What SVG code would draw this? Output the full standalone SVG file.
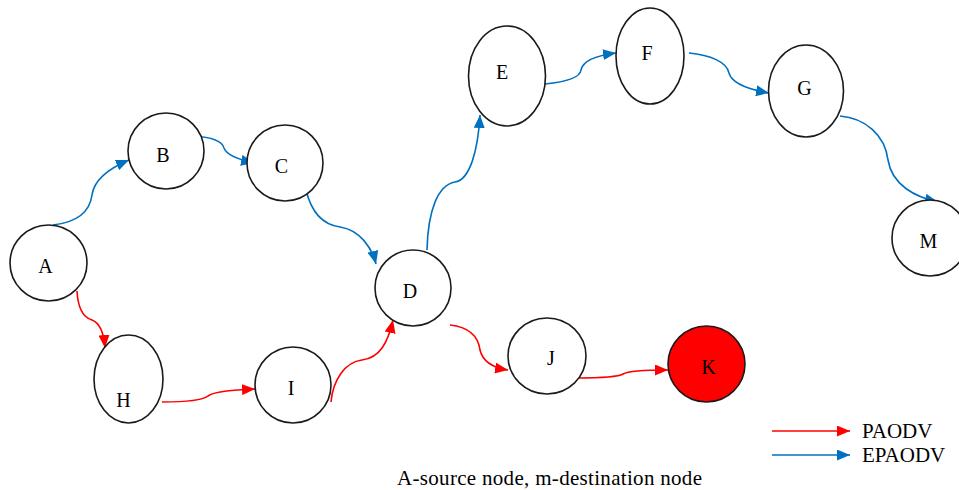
<svg xmlns="http://www.w3.org/2000/svg" width="959" height="490" viewBox="0 0 959 490">
<style>
.node{fill:#fff;stroke:#1a1a1a;stroke-width:1.6}
.dest{fill:#ff0000;stroke:#1a1a1a;stroke-width:1.6}
text{font-family:"Liberation Serif","Times New Roman",serif;fill:#000}
.lbl{font-size:20px;text-anchor:middle}
.txt{font-size:21px}
.red{fill:none;stroke:#ff0000;stroke-width:1.6;marker-end:url(#ar)}
.blue{fill:none;stroke:#0070c0;stroke-width:1.6;marker-end:url(#ab)}
</style>
<defs>
<marker id="ar" markerUnits="userSpaceOnUse" markerWidth="13" markerHeight="11" refX="13" refY="5.5" orient="auto"><path d="M0,0 L13,5.5 L0,11 z" fill="#ff0000"/></marker>
<marker id="ab" markerUnits="userSpaceOnUse" markerWidth="13" markerHeight="11" refX="13" refY="5.5" orient="auto"><path d="M0,0 L13,5.5 L0,11 z" fill="#0070c0"/></marker>
</defs>
<rect width="959" height="490" fill="#fff"/>
<g id="connectors">
<path class="blue" d="M53,225 C80,222 90,210 92,195 C94,180 110,168 129,160"/>
<path class="blue" d="M193,136 C210,137 222,140 224,148 C227,156 240,160 254,163"/>
<path class="blue" d="M306,190 C312,215 325,225 340,227 C360,230 372,248 376,264"/>
<path class="blue" d="M427,250 C428,210 438,185 455,182 C470,180 478,150 480,115"/>
<path class="blue" d="M545,84 C565,82 580,78 581,70 C583,60 600,55 616,53"/>
<path class="blue" d="M689,53 C710,55 727,62 729,73 C732,85 752,90 769,93"/>
<path class="blue" d="M840,116 C865,118 885,135 888,160 C892,185 915,197 938,202"/>
<path class="red" d="M77,291 C78,310 85,318 92,320 C100,323 104,335 105,348"/>
<path class="red" d="M162,402 C185,402 203,400 208,396 C215,391 235,390 255,389"/>
<path class="red" d="M331,402 C333,380 345,362 362,360 C380,358 388,342 393,320"/>
<path class="red" d="M450,325 C468,327 478,335 480,350 C483,363 495,368 508,370"/>
<path class="red" d="M577,378 C600,378 618,377 623,374 C628,371 650,370 668,370"/>
</g>
<g id="node-A"><ellipse class="node" cx="48.5" cy="263" rx="38.5" ry="38"/><text class="lbl" x="45.5" y="273">A</text></g>
<g id="node-B"><ellipse class="node" cx="166" cy="151" rx="38" ry="38"/><text class="lbl" x="163" y="162">B</text></g>
<g id="node-C"><ellipse class="node" cx="285" cy="163" rx="38" ry="38"/><text class="lbl" x="281.5" y="173">C</text></g>
<g id="node-D"><ellipse class="node" cx="413" cy="288" rx="38" ry="38"/><text class="lbl" x="410" y="298">D</text></g>
<g id="node-E"><ellipse class="node" cx="507" cy="76" rx="38.5" ry="50"/><text class="lbl" x="502" y="79">E</text></g>
<g id="node-F"><ellipse class="node" cx="650" cy="56" rx="34" ry="48"/><text class="lbl" x="647" y="60">F</text></g>
<g id="node-G"><ellipse class="node" cx="806" cy="91" rx="37.5" ry="46"/><text class="lbl" x="804.5" y="95">G</text></g>
<g id="node-M"><ellipse class="node" cx="930" cy="238" rx="38" ry="38"/><text class="lbl" x="928.5" y="248">M</text></g>
<g id="node-H"><ellipse class="node" cx="128.5" cy="379" rx="34.5" ry="44"/><text class="lbl" x="123.5" y="407">H</text></g>
<g id="node-I"><ellipse class="node" cx="293" cy="385" rx="38" ry="38"/><text class="lbl" x="291" y="395">I</text></g>
<g id="node-J"><ellipse class="node" cx="547" cy="356" rx="39" ry="38"/><text class="lbl" x="551" y="365">J</text></g>
<g id="node-K"><ellipse class="dest" cx="706.5" cy="364" rx="38.5" ry="38"/><text class="lbl" x="708.5" y="374">K</text></g>
<g id="legend">
<line class="red" x1="772" y1="431" x2="850" y2="431"/>
<line class="blue" x1="772" y1="455" x2="850" y2="455"/>
<text class="txt" x="862" y="438">PAODV</text>
<text class="txt" x="862" y="462">EPAODV</text>
</g>
<text class="txt" x="397" y="485" textLength="305" lengthAdjust="spacing">A-source node, m-destination node</text>
</svg>
